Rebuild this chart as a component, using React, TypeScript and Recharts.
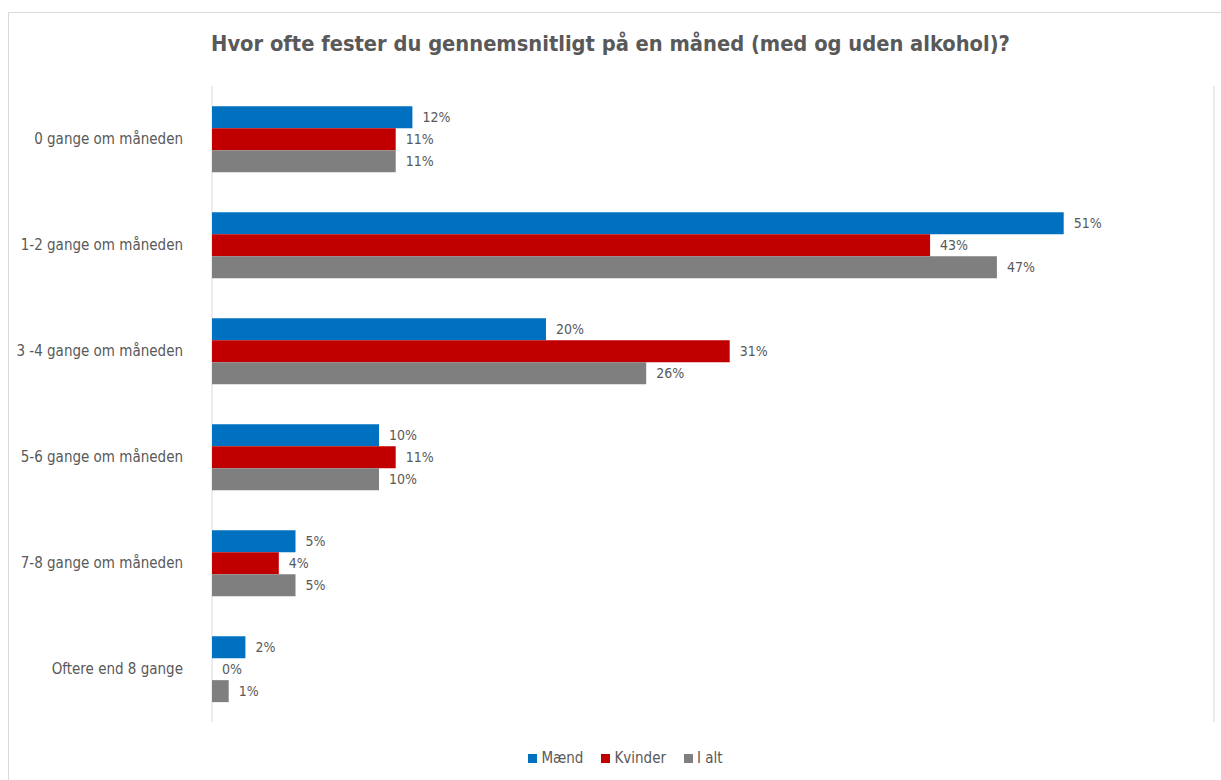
import React from 'react';
import { BarChart, Bar, XAxis, YAxis, CartesianGrid, LabelList } from 'recharts';

const categories = [
  '0 gange om måneden',
  '1-2 gange om måneden',
  '3 -4 gange om måneden',
  '5-6 gange om måneden',
  '7-8 gange om måneden',
  'Oftere end 8 gange',
];
const maend = [12, 51, 20, 10, 5, 2];
const kvinder = [11, 43, 31, 11, 4, 0];
const iAlt = [11, 47, 26, 10, 5, 1];
const xTicks = [0, 10, 20, 30, 40, 50, 60];

const series = [
  { key: 'maend', name: 'Mænd', color: '#0070C0' },
  { key: 'kvinder', name: 'Kvinder', color: '#C00000' },
  { key: 'iAlt', name: 'I alt', color: '#7F7F7F' },
];

const data = categories.map((name, i) => ({ name, maend: maend[i], kvinder: kvinder[i], iAlt: iAlt[i] }));

const FONT = "'Liberation Sans Narrow', 'DejaVu Sans Condensed', 'Liberation Sans', sans-serif";
const TEXT = '#595959';

const pct = (v: any) => `${v}%`;
// zero-valued bars still need their "0%" label, so give them a hairline width
const minSize = (v: any) => (v === 0 ? 0.01 : 0);

export default function App() {
  return (
    <div style={{ position: 'fixed', left: 0, top: 0, width: 1221, height: 780, overflow: 'hidden', background: '#fff', fontFamily: FONT }}>
      <div style={{ position: 'absolute', left: 8, top: 12, width: 1240, height: 800, borderLeft: '1px solid #d9d9d9', borderTop: '1px solid #d9d9d9' }} />
      <div style={{ position: 'absolute', left: 0, top: 31, width: 1221, textAlign: 'center', fontSize: 21.7, fontWeight: 'bold', color: TEXT }}>
        Hvor ofte fester du gennemsnitligt på en måned (med og uden alkohol)?
      </div>
      <div style={{ position: 'absolute', left: 0, top: 0 }}>
        <BarChart
          width={1221}
          height={780}
          data={data}
          layout="vertical"
          margin={{ top: 86, right: 7, bottom: 58, left: 0 }}
          barCategoryGap="19%"
          barGap={0}
        >
          <CartesianGrid horizontal={false} stroke="#d9d9d9" />
          <XAxis type="number" domain={[0, 60]} ticks={xTicks} axisLine={false} tickLine={false} tick={false} height={0} />
          <YAxis
            type="category"
            dataKey="name"
            width={212}
            axisLine={false}
            tickLine={false}
            tickSize={0}
            tickMargin={29}
            tick={{ fill: TEXT, fontSize: 15, fontFamily: FONT }}
          />
          {series.map((s) => (
            <Bar key={s.key} dataKey={s.key} name={s.name} fill={s.color} minPointSize={minSize} isAnimationActive={false}>
              <LabelList dataKey={s.key} position="right" offset={10} formatter={pct} fill={TEXT} fontSize={14} fontFamily={FONT} />
            </Bar>
          ))}
        </BarChart>
      </div>
      <div style={{ position: 'absolute', left: 15, top: 749, width: 1221, display: 'flex', justifyContent: 'center', fontSize: 15, color: TEXT }}>
        {series.map((s) => (
          <div key={s.key} style={{ display: 'flex', alignItems: 'center', margin: '0 9px' }}>
            <span style={{ display: 'inline-block', width: 9, height: 9, background: s.color, marginRight: 4 }} />
            <span>{s.name}</span>
          </div>
        ))}
      </div>
    </div>
  );
}
